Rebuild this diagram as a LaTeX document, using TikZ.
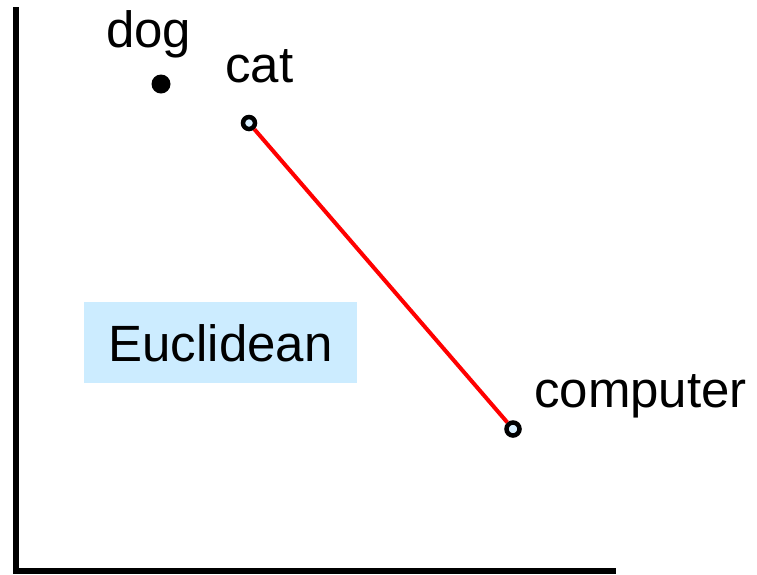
\documentclass[tikz,border=0pt]{standalone}
\usepackage{fontspec}
\setmainfont{Liberation Sans}
\definecolor{boxblue}{HTML}{CCECFF}
\definecolor{ptblue}{HTML}{D8F0FF}
\begin{document}
\begin{tikzpicture}[x=1pt,y=-1pt,
  lbl/.style={anchor=base west,inner sep=0pt,font=\fontsize{51}{61}\selectfont},
  solidpt/.style={circle,fill=black,inner sep=0pt,minimum size=19pt},
  hollowpt/.style={circle,draw=black,line width=4.5pt,fill=ptblue,inner sep=0pt},
  axis/.style={line width=6pt,line join=miter},
  dist/.style={red,line width=4pt}]
\useasboundingbox (0,0) rectangle (757,574);
\coordinate (ytop) at (16,7);
\coordinate (origin) at (16,571);
\coordinate (xend) at (616,571);
\draw[axis] (ytop) -- (origin) -- (xend);
\node[solidpt] (dog) at (161,84) {};
\node[hollowpt,minimum size=12pt] (cat) at (249,123) {};
\node[hollowpt,minimum size=13pt] (computer) at (513,429) {};
\draw[dist] (cat) -- (computer);
\node[lbl] (doglbl) at (106,47) {dog};
\node[lbl] (catlbl) at (225,82) {cat};
\node[lbl] (complbl) at (534,407) {computer};
\node[fill=boxblue,minimum width=273pt,minimum height=81pt,inner sep=0pt,
  text height=37pt,text depth=0pt,font=\fontsize{51}{61}\selectfont] (euclid) at (220.5,342.5) {Euclidean};
\end{tikzpicture}
\end{document}
